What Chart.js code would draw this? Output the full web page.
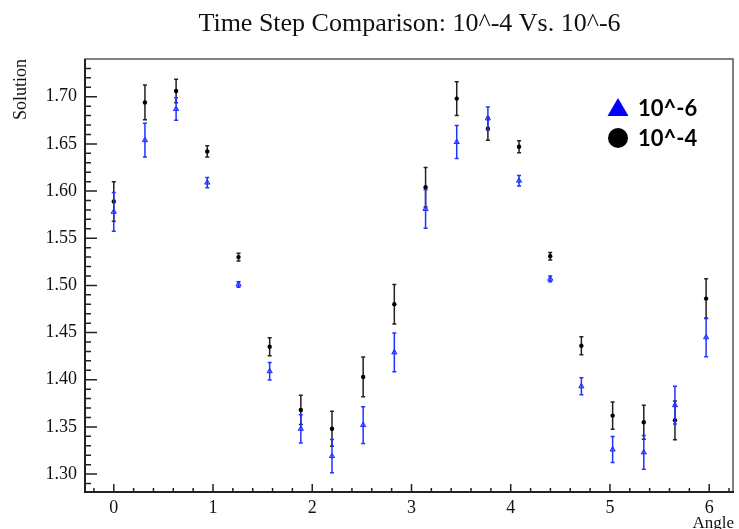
<!DOCTYPE html>
<html>
<head>
<meta charset="utf-8">
<script src="https://cdn.jsdelivr.net/npm/chart.js@4.4.1/dist/chart.umd.min.js"></script>
<style>
  html, body { margin: 0; padding: 0; background: #fff; }
  #wrap { width: 739px; height: 529px; }
</style>
</head>
<body>
<div id="wrap"><canvas id="chart"></canvas></div>
<script>
// angle values (radians)
var angles = [0, 0.314, 0.628, 0.942, 1.257, 1.571, 1.885, 2.199, 2.513, 2.827,
              3.142, 3.456, 3.770, 4.084, 4.398, 4.712, 5.027, 5.341, 5.655, 5.969];

// time step 10^-4 (black circles)
var sol4 = [1.589, 1.694, 1.706, 1.642, 1.530, 1.435, 1.368, 1.348, 1.403, 1.480,
            1.604, 1.698, 1.666, 1.647, 1.531, 1.436, 1.362, 1.355, 1.357, 1.486];
var err4 = [0.021, 0.0185, 0.0125, 0.006, 0.004, 0.0095, 0.0155, 0.0185, 0.021, 0.021,
            0.021, 0.018, 0.012, 0.0063, 0.004, 0.0095, 0.0145, 0.018, 0.0205, 0.021];

// time step 10^-6 (blue triangles)
var sol6 = [1.578, 1.654, 1.687, 1.609, 1.501, 1.409, 1.348, 1.319, 1.352, 1.429,
            1.581, 1.652, 1.677, 1.611, 1.507, 1.393, 1.326, 1.323, 1.373, 1.445];
var err6 = [0.0205, 0.018, 0.012, 0.0055, 0.003, 0.0093, 0.015, 0.0177, 0.0195, 0.0205,
            0.0205, 0.0175, 0.012, 0.0055, 0.003, 0.009, 0.0138, 0.018, 0.020, 0.0205];

var xTicks = [0, 1, 2, 3, 4, 5, 6];
var yTicks = [1.30, 1.35, 1.40, 1.45, 1.50, 1.55, 1.60, 1.65, 1.70];

function points(xs, ys) {
    return xs.map(function (x, i) { return {x: x, y: ys[i]}; });
}

var serif = "'Liberation Serif', 'DejaVu Serif', serif";

// error bars drawn under each dataset's markers
var errorBars = {
    id: 'errorBars',
    beforeDatasetDraw: function (chart, args) {
        var ds = chart.data.datasets[args.index];
        if (!ds.errors) return;
        var ctx = chart.ctx, xs = chart.scales.x, ys = chart.scales.y;
        ctx.save();
        ctx.strokeStyle = ds.barColor;
        ctx.lineWidth = 1.5;
        ds.data.forEach(function (p, i) {
            var px = xs.getPixelForValue(p.x);
            var top = ys.getPixelForValue(p.y + ds.errors[i]);
            var bot = ys.getPixelForValue(p.y - ds.errors[i]);
            ctx.beginPath();
            ctx.moveTo(px, top); ctx.lineTo(px, bot);
            ctx.moveTo(px - 2, top); ctx.lineTo(px + 2, top);
            ctx.moveTo(px - 2, bot); ctx.lineTo(px + 2, bot);
            ctx.stroke();
        });
        ctx.restore();
    }
};

// ROOT style frame with inside ticks
var frame = {
    id: 'frame',
    afterDraw: function (chart) {
        var ctx = chart.ctx, a = chart.chartArea;
        var xs = chart.scales.x, ys = chart.scales.y;
        ctx.save();
        ctx.strokeStyle = '#555';
        ctx.lineWidth = 1.5;
        ctx.strokeRect(a.left, a.top, a.right - a.left - 1, a.bottom - a.top);
        ctx.strokeStyle = '#222';
        ctx.lineWidth = 2;
        ctx.beginPath();
        ctx.moveTo(a.left, a.top); ctx.lineTo(a.left, a.bottom); ctx.lineTo(a.right, a.bottom);
        ctx.stroke();
        ctx.lineWidth = 1.5;
        ctx.beginPath();
        var v, p;
        for (v = 1.29; v < ys.max; v += 0.01) {
            p = ys.getPixelForValue(v);
            if (p < a.top || p > a.bottom) continue;
            var major = Math.abs(Math.round(v * 100) % 5) === 0;
            ctx.moveTo(a.left, p); ctx.lineTo(a.left + (major ? 12 : 6), p);
        }
        for (v = -0.2; v < xs.max; v += 0.2) {
            p = xs.getPixelForValue(v);
            if (p < a.left || p > a.right) continue;
            var majorX = Math.abs(v - Math.round(v)) < 0.01;
            ctx.moveTo(p, a.bottom); ctx.lineTo(p, a.bottom - (majorX ? 8 : 4));
        }
        ctx.stroke();

        // legend
        var lx = a.right - 116, ly = a.top + 48;
        ctx.fillStyle = '#0000ff';
        ctx.beginPath();
        ctx.moveTo(lx, ly - 9); ctx.lineTo(lx + 10.5, ly + 9); ctx.lineTo(lx - 10.5, ly + 9);
        ctx.closePath(); ctx.fill();
        ctx.fillStyle = '#000';
        ctx.beginPath();
        ctx.arc(lx, ly + 31, 10, 0, Math.PI * 2); ctx.fill();
        ctx.font = "bold 22px Lato, 'Noto Sans', sans-serif";
        ctx.textBaseline = 'alphabetic';
        ctx.fillText(chart.data.datasets[0].label, lx + 20, ly + 9);
        ctx.fillText(chart.data.datasets[1].label, lx + 20, ly + 39);
        ctx.restore();
    }
};

new Chart(document.getElementById('chart'), {
    type: 'scatter',
    data: {
        datasets: [
            {
                label: '10^-6',
                data: points(angles, sol6),
                errors: err6,
                barColor: '#2233ff',
                pointStyle: 'triangle',
                pointRadius: 3,
                backgroundColor: 'rgba(40,60,255,0.45)',
                borderColor: '#1a2cff',
                borderWidth: 1
            },
            {
                label: '10^-4',
                data: points(angles, sol4),
                errors: err4,
                barColor: '#222',
                pointStyle: 'circle',
                pointRadius: 2.2,
                backgroundColor: '#000',
                borderColor: '#000',
                borderWidth: 0
            }
        ]
    },
    plugins: [errorBars, frame],
    options: {
        responsive: true,
        maintainAspectRatio: false,
        animation: false,
        layout: { padding: { left: 0, right: 1, top: 0, bottom: 0 } },
        plugins: {
            legend: { display: false },
            tooltip: { enabled: false },
            title: {
                display: true,
                fullSize: false,
                text: 'Time Step Comparison: 10^-4 Vs. 10^-6',
                color: '#111',
                font: { family: serif, size: 26, weight: 'normal', lineHeight: 1 },
                padding: { top: 11, bottom: 22 }
            }
        },
        scales: {
            x: {
                type: 'linear',
                min: -0.29,
                max: 6.25,
                afterBuildTicks: function (s) { s.ticks = xTicks.map(function (v) { return {value: v}; }); },
                afterFit: function (s) { s.height = 37; },
                grid: { display: false, drawTicks: false, tickLength: 0 },
                border: { display: false },
                ticks: {
                    padding: 5,
                    color: '#111',
                    font: { family: serif, size: 18 },
                    maxRotation: 0
                },
                title: {
                    display: true,
                    text: 'Angle',
                    align: 'end',
                    color: '#111',
                    font: { family: serif, size: 17, lineHeight: 1 },
                    padding: { top: 0, bottom: -3 }
                }
            },
            y: {
                type: 'linear',
                min: 1.281,
                max: 1.740,
                afterBuildTicks: function (s) { s.ticks = yTicks.map(function (v) { return {value: v}; }); },
                afterFit: function (s) { s.width = 85; },
                grid: { display: false, drawTicks: false, tickLength: 0 },
                border: { display: false },
                ticks: {
                    padding: 8,
                    color: '#111',
                    font: { family: serif, size: 18 },
                    callback: function (v) { return v.toFixed(2); }
                },
                title: {
                    display: true,
                    text: 'Solution',
                    align: 'end',
                    color: '#111',
                    font: { family: serif, size: 18, lineHeight: 1.2 },
                    padding: { top: 10, bottom: 0 }
                }
            }
        }
    }
});
</script>
</body>
</html>
